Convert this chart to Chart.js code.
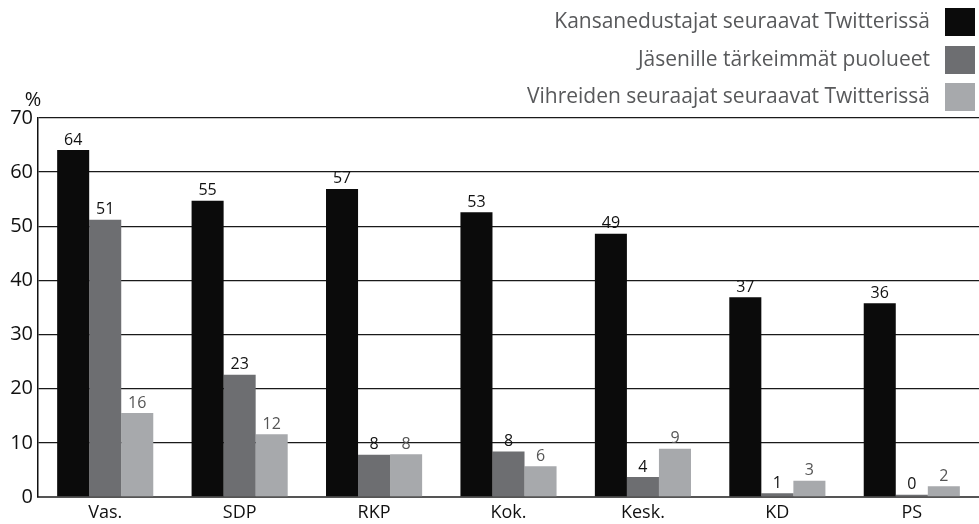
<!DOCTYPE html>
<html>
<head>
<meta charset="utf-8">
<script src="https://cdn.jsdelivr.net/npm/chart.js@4/dist/chart.umd.min.js"></script>
<style>
html,body{margin:0;padding:0;background:#fff;}
#wrap{position:relative;width:979px;height:524px;}
</style>
</head>
<body>
<div id="wrap"><canvas id="c" width="979" height="524"></canvas></div>
<script>
const categories = ['Vas.', 'SDP', 'RKP', 'Kok.', 'Kesk.', 'KD', 'PS'];
const seriesNames = ['Kansanedustajat seuraavat Twitterissä', 'Jäsenille tärkeimmät puolueet', 'Vihreiden seuraajat seuraavat Twitterissä'];
const mpFollow = [64.1, 54.7, 56.9, 52.6, 48.6, 36.9, 35.8];
const memberParties = [51.2, 22.6, 7.8, 8.4, 3.7, 0.7, 0.4];
const greenFollowers = [15.5, 11.6, 7.9, 5.7, 8.9, 3.0, 2.0];
const yTicks = [0, 10, 20, 30, 40, 50, 60, 70];
const yUnit = '%';

const colors = ['#0b0b0b', '#6d6e71', '#a7a9ac'];
const labelColors = ['#111', '#111', '#555'];
const FONT = '"Open Sans", "Noto Sans", sans-serif';

const valueLabels = {
  id: 'valueLabels',
  afterDatasetsDraw(chart) {
    const ctx = chart.ctx;
    ctx.save();
    ctx.font = '16px ' + FONT;
    ctx.textAlign = 'center';
    ctx.textBaseline = 'bottom';
    chart.data.datasets.forEach((ds, i) => {
      const meta = chart.getDatasetMeta(i);
      ctx.fillStyle = labelColors[i];
      meta.data.forEach((el, j) => {
        ctx.fillText(String(Math.round(ds.data[j])), el.x, el.y - 2);
      });
    });
    ctx.restore();
  }
};

const customLegend = {
  id: 'customLegend',
  afterDraw(chart) {
    const ctx = chart.ctx;
    ctx.save();
    ctx.font = '21px ' + FONT;
    ctx.textAlign = 'right';
    ctx.textBaseline = 'middle';
    const rows = [22, 60, 97];
    chart.data.datasets.forEach((ds, i) => {
      const cy = rows[i];
      ctx.fillStyle = '#58595b';
      ctx.fillText(ds.label, 930, cy);
      ctx.fillStyle = ds.backgroundColor;
      ctx.fillRect(945, cy - 14, 30, 28);
    });
    // unit label
    ctx.font = '20px ' + FONT;
    ctx.fillStyle = '#111';
    ctx.textAlign = 'center';
    ctx.textBaseline = 'middle';
    ctx.fillText(yUnit, chart.chartArea.left - 5, chart.chartArea.top - 18);
    ctx.restore();
  }
};

new Chart(document.getElementById('c'), {
  type: 'bar',
  data: {
    labels: categories,
    datasets: [
      { label: seriesNames[0], data: mpFollow, backgroundColor: colors[0] },
      { label: seriesNames[1], data: memberParties, backgroundColor: colors[1] },
      { label: seriesNames[2], data: greenFollowers, backgroundColor: colors[2] }
    ]
  },
  options: {
    responsive: false,
    animation: false,
    layout: { padding: { top: 118, right: 0, bottom: 0, left: 0 } },
    datasets: { bar: { categoryPercentage: 0.715, barPercentage: 1.0, borderWidth: 0 } },
    plugins: {
      legend: { display: false },
      tooltip: { enabled: false }
    },
    scales: {
      x: {
        grid: { display: false, drawTicks: false },
        border: { color: '#555', width: 2 },
        ticks: { font: { family: FONT, size: 18 }, color: '#111', padding: 5 },
        afterFit(s) { s.height = 27; }
      },
      y: {
        min: 0, max: 70,
        afterBuildTicks(s) { s.ticks = yTicks.map(v => ({ value: v })); },
        grid: {
          color: ctx => ctx.tick && ctx.tick.value === 0 ? '#555' : '#1a1a1a',
          lineWidth: 1.3,
          drawTicks: false
        },
        border: { color: '#111', width: 1.5 },
        ticks: { font: { family: FONT, size: 20 }, color: '#111', padding: 5 },
        afterFit(s) { s.width = 38; }
      }
    }
  },
  plugins: [valueLabels, customLegend]
});
</script>
</body>
</html>
